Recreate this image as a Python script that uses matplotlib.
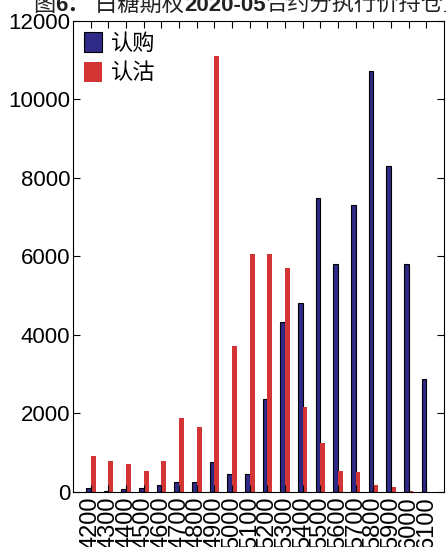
import numpy as np
import matplotlib.pyplot as plt

plt.rcParams['font.family'] = ['Liberation Sans', 'Noto Sans CJK SC', 'DejaVu Sans']

# strike prices and open interest
strikes = ['4200', '4300', '4400', '4500', '4600', '4700', '4800', '4900', '5000', '5100',
           '5200', '5300', '5400', '5500', '5600', '5700', '5800', '5900', '6000', '6100']
calls = [115, 15, 85, 110, 175, 260, 250, 760, 450, 460,
         2355, 4320, 4805, 7490, 5805, 7315, 10710, 8290, 5815, 2870]
puts = [915, 780, 710, 540, 780, 1880, 1660, 11085, 3710, 6070,
        6070, 5710, 2170, 1255, 540, 505, 175, 120, 35, 10]

blue = '#2E2A86'
red = '#D33535'

fig = plt.figure(figsize=(4.46, 5.47), dpi=100)
ax = fig.add_axes([0.164, 0.1005, 0.8315, 0.862])

x = np.arange(len(strikes))
w = 0.27
ax.bar(x - w / 2, calls, width=w, color=blue, edgecolor='black', linewidth=0.8, label='认购')
ax.bar(x + w / 2, puts, width=w, color=red, edgecolor='none', label='认沽')

ax.set_xlim(-1, 20)
ax.set_ylim(0, 12000)
ax.set_yticks(np.arange(0, 12001, 2000))
ax.set_xticks(x)
ax.set_xticklabels(strikes, rotation=90, fontsize=17)
ax.tick_params(axis='y', labelsize=16, pad=2)
ax.tick_params(direction='in', top=True, right=True, length=5, width=0.8)
ax.tick_params(axis='x', pad=3)
for s in ax.spines.values():
    s.set_linewidth(0.8)

ax.legend(loc='upper left', frameon=False, prop={'family': 'Noto Sans CJK SC', 'size': 16},
          handlelength=0.8, handleheight=1.0, handletextpad=0.4, labelspacing=0.3,
          borderaxespad=0.1)

# title, partly cut off at the top; pieces chained one after another
parts = [('图', 'normal'), ('6：', 'bold'), (' 白糖期权', 'normal'), ('2020-05', 'bold'),
         ('合约分执行价持仓量', 'normal')]
prev = fig.text(33 / 446, 1 - 11 / 547, parts[0][0], fontsize=16,
                family=['Noto Sans CJK SC'], va='baseline', color='#222222')
for txt, wt in parts[1:]:
    fam = ['Liberation Sans', 'Noto Sans CJK SC'] if wt == 'bold' else ['Noto Sans CJK SC']
    prev = fig.add_artist(plt.Annotation(txt, xy=(1, 0), xycoords=prev, fontsize=16,
                                         fontweight=wt, family=fam, color='#222222',
                                         va='bottom', ha='left', annotation_clip=False))

fig.savefig('out.png', dpi=100)
